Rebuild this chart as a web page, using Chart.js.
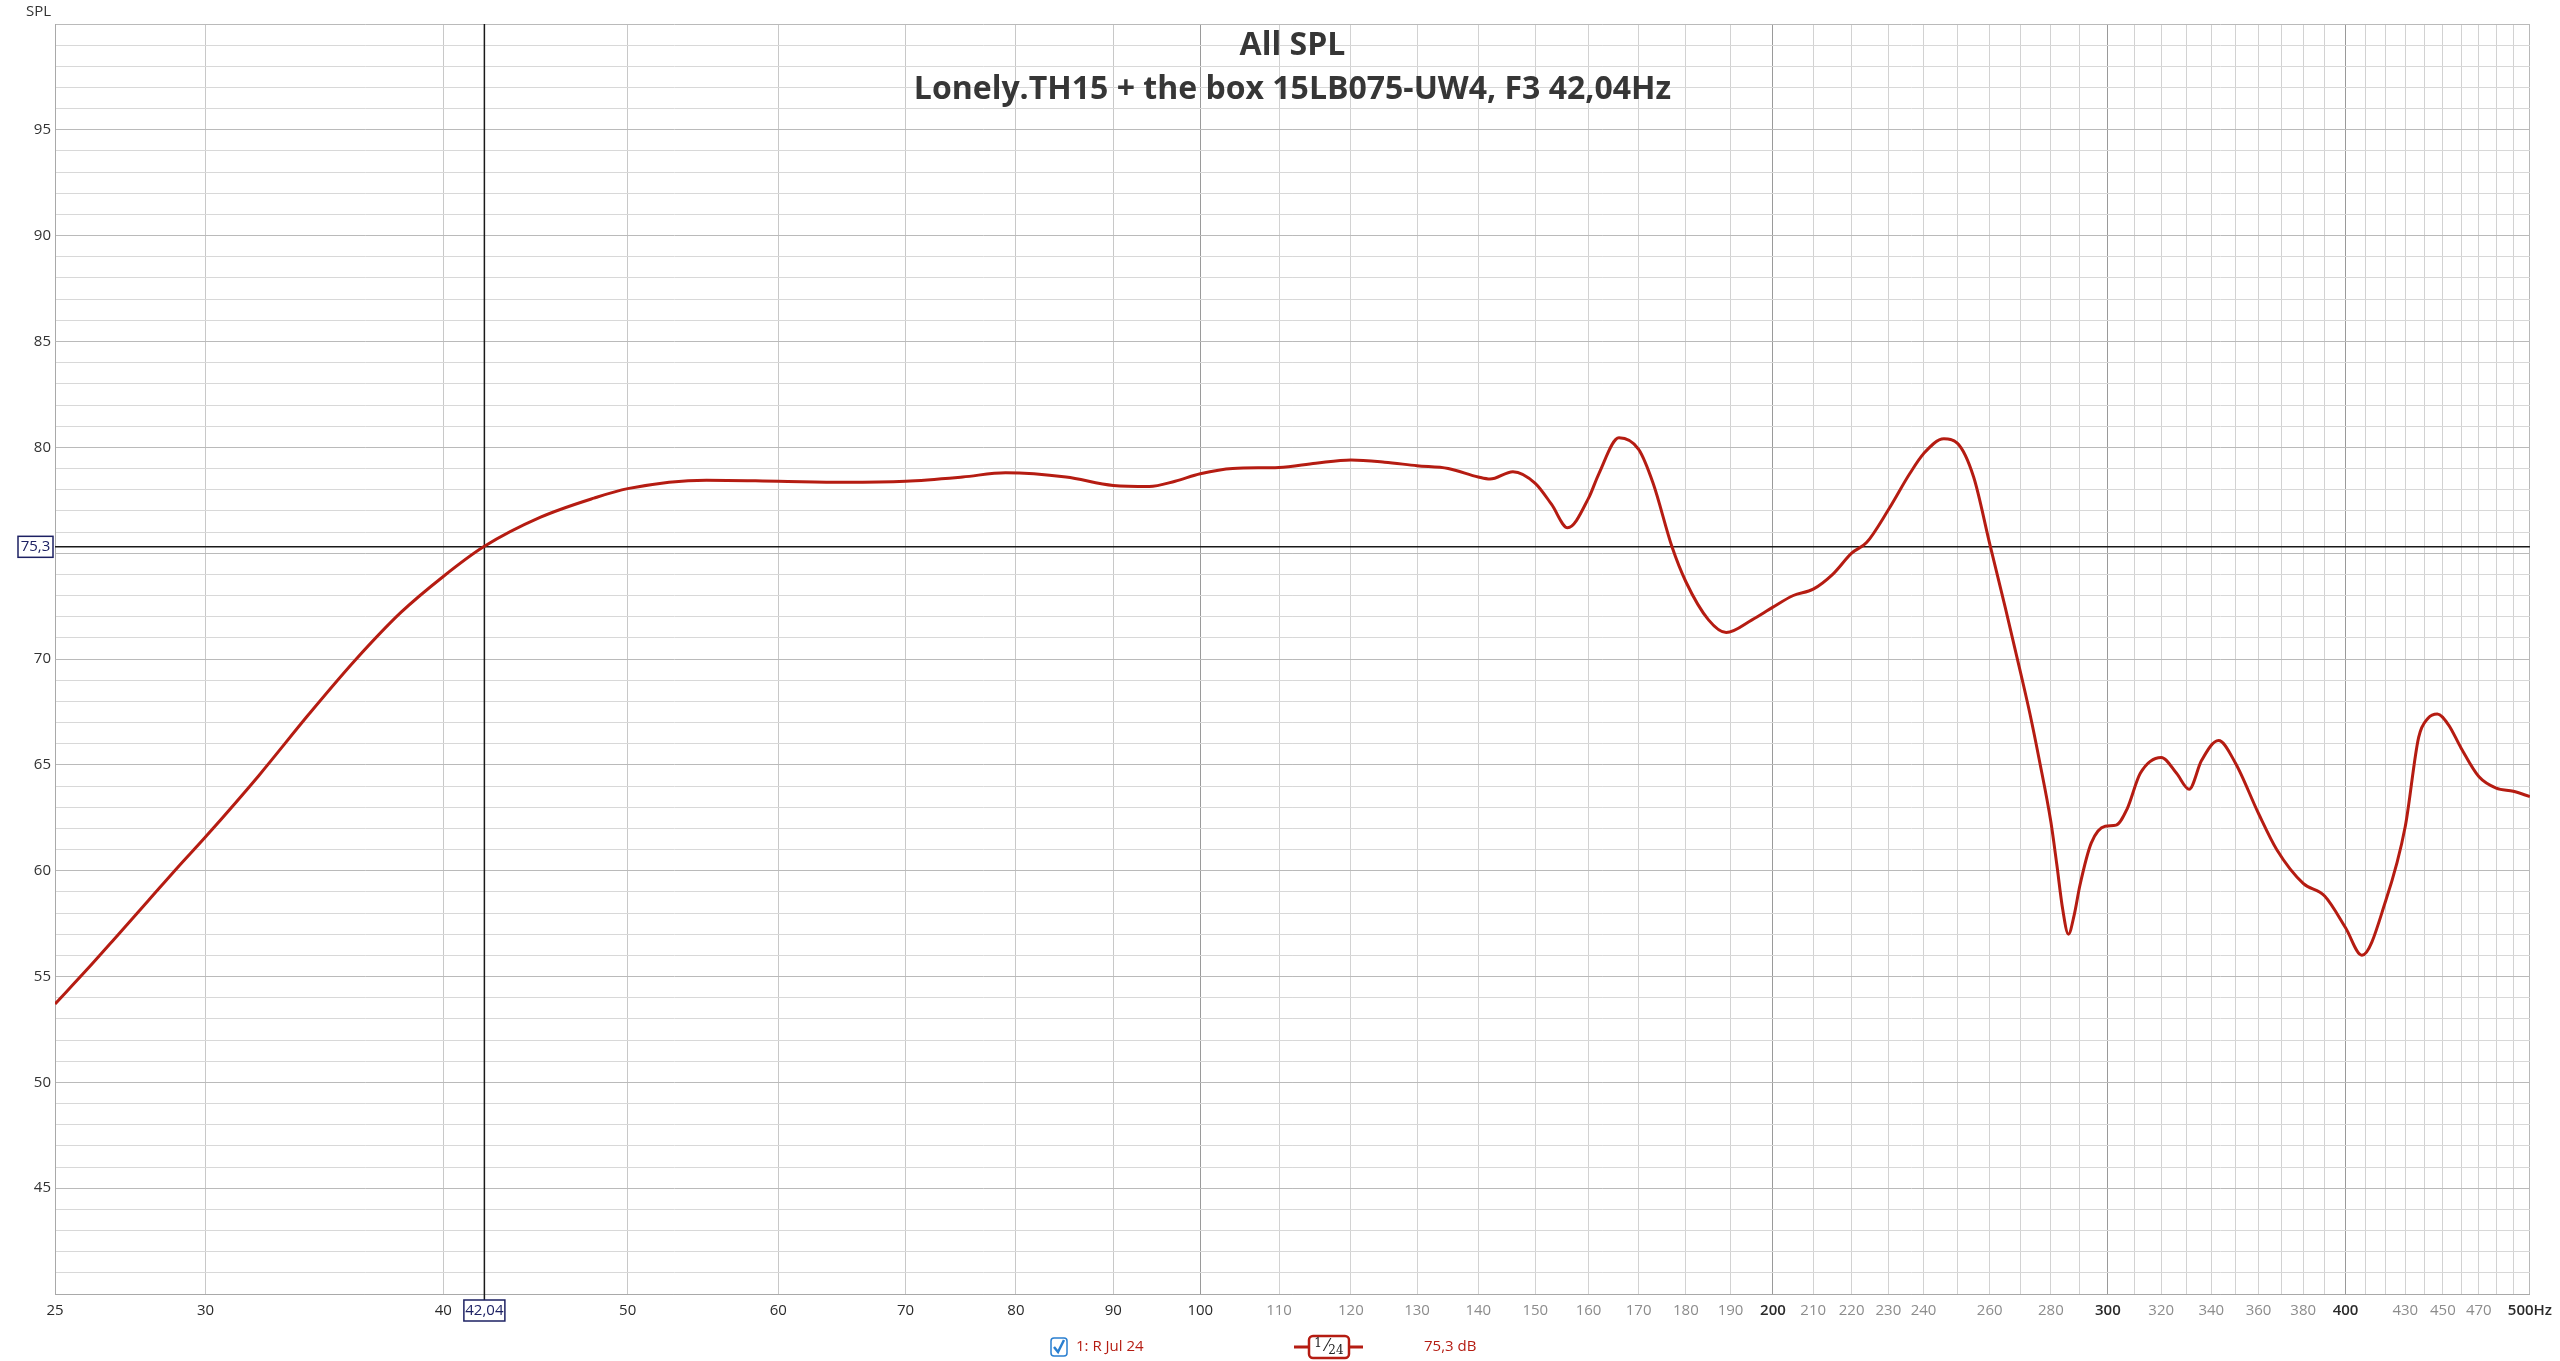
<!DOCTYPE html>
<html>
<head>
<meta charset="utf-8">
<script src="https://cdn.jsdelivr.net/npm/chart.js@4.4.1/dist/chart.umd.min.js"></script>
<style>
  html, body { margin: 0; padding: 0; background: #fff; }
  canvas { display: block; }
</style>
</head>
<body>
<canvas id="chart" width="2560" height="1361"></canvas>
<script>
const freqs = [25, 26, 27, 28, 29, 30, 32, 34, 36, 38, 40, 42, 45, 48, 50, 55, 60, 65, 70, 75, 79, 85, 90, 94,
  97, 100, 104, 110, 115, 120, 125, 130, 135, 140, 142, 146, 150, 153, 156, 160, 162, 166, 170, 173, 177, 180,
  185, 189, 195, 200, 205, 210, 215, 220, 224, 230, 236, 240, 246, 250, 255, 260, 265, 270, 273, 276, 280, 282,
  284, 286, 288, 290, 294, 299, 303, 307, 312, 320, 326, 331, 336, 343, 350, 360, 368, 380, 390, 400, 408, 420,
  430, 437, 442, 447, 453, 460, 470, 480, 490, 500];
const spl = [53.7, 55.35, 57.0, 58.6, 60.15, 61.6, 64.5, 67.4, 70.0, 72.2, 73.9, 75.3, 76.7, 77.6, 78.05, 78.45,
  78.4, 78.35, 78.4, 78.6, 78.8, 78.6, 78.2, 78.15, 78.4, 78.75, 79.0, 79.05, 79.25, 79.4, 79.3, 79.13, 79.0,
  78.6, 78.5, 78.85, 78.3, 77.3, 76.2, 77.6, 78.75, 80.45, 79.9, 78.3, 75.3, 73.65, 71.85, 71.25, 71.85, 72.45,
  73.0, 73.3, 74.0, 75.0, 75.5, 77.05, 78.75, 79.7, 80.4, 80.2, 78.6, 75.45, 72.4, 69.3, 67.4, 65.3, 62.3, 60.3,
  58.2, 57.0, 57.9, 59.3, 61.3, 62.1, 62.15, 62.9, 64.6, 65.35, 64.6, 63.85, 65.2, 66.15, 65.1, 62.7, 61.0,
  59.4, 58.8, 57.3, 56.0, 58.6, 62.1, 66.3, 67.2, 67.4, 66.9, 65.8, 64.45, 63.9, 63.75, 63.5];

const gridFreqs = [25, 30, 40, 50, 60, 70, 80, 90, 100, 110, 120, 130, 140, 150, 160, 170, 180, 190, 200,
  210, 220, 230, 240, 250, 260, 270, 280, 290, 300, 310, 320, 330, 340, 350, 360, 370, 380, 390, 400,
  410, 420, 430, 440, 450, 460, 470, 480, 490, 500];
const labelFreqs = [25, 30, 40, 50, 60, 70, 80, 90, 100, 110, 120, 130, 140, 150, 160, 170, 180, 190, 200,
  210, 220, 230, 240, 260, 280, 300, 320, 340, 360, 380, 400, 430, 450, 470, 500];
const darkFreqs = [25, 30, 40, 50, 60, 70, 80, 90, 100, 200, 300, 400, 500];
const boldFreqs = [200, 300, 400, 500];
const splMin = 40, splMax = 100;

const cursorFreq = 42.04;
const cursorSpl = 75.3;
const titleText = 'All SPL';
const subtitleText = 'Lonely.TH15 + the box 15LB075-UW4, F3 42,04Hz';
const legendName = '1: R Jul 24';
const legendValue = '75,3 dB';

const FONT = "'Open Sans', 'Noto Sans', sans-serif";
const RED = '#b51c12';
const NAVY = '#1d2163';

const overlayPlugin = {
  id: 'overlay',
  beforeDatasetsDraw(chart) {
    const { ctx, chartArea: a, scales } = chart;
    const cx = scales.x.getPixelForValue(cursorFreq);
    const cy = scales.y.getPixelForValue(cursorSpl);
    ctx.save();
    ctx.strokeStyle = '#1a1a1a';
    ctx.lineWidth = 1.5;
    ctx.beginPath();
    ctx.moveTo(a.left, cy); ctx.lineTo(a.right, cy);
    ctx.moveTo(cx, a.top); ctx.lineTo(cx, a.bottom + 6);
    ctx.stroke();

    // title
    const mid = (a.left + a.right) / 2;
    ctx.fillStyle = '#363636';
    ctx.textAlign = 'center';
    ctx.textBaseline = 'middle';
    ctx.font = `bold 32px ${FONT}`;
    ctx.fillText(titleText, mid, 46);
    ctx.fillText(subtitleText, mid, 90);
    ctx.restore();
  },
  afterDraw(chart) {
    const { ctx, scales } = chart;
    const cx = scales.x.getPixelForValue(cursorFreq);
    const cy = scales.y.getPixelForValue(cursorSpl);
    ctx.save();
    ctx.font = `15px ${FONT}`;
    ctx.textBaseline = 'middle';

    // axis caption
    ctx.fillStyle = '#333';
    ctx.textAlign = 'right';
    ctx.fillText('SPL', 51, 12);

    // cursor value boxes
    ctx.lineWidth = 1.5;
    ctx.strokeStyle = NAVY;
    ctx.fillStyle = '#fff';
    ctx.fillRect(18, cy - 10.5, 35, 21);
    ctx.strokeRect(18, cy - 10.5, 35, 21);
    ctx.fillRect(cx - 20.5, 1300, 41, 21);
    ctx.strokeRect(cx - 20.5, 1300, 41, 21);
    ctx.fillStyle = NAVY;
    ctx.textAlign = 'center';
    ctx.fillText('75,3', 35.5, cy);
    ctx.fillText('42,04', cx, 1311);

    // legend row
    const ly = 1347;
    ctx.strokeStyle = '#2a7fd0';
    ctx.lineWidth = 1.5;
    ctx.beginPath();
    ctx.roundRect(1051, ly - 9, 16, 18, 3);
    ctx.stroke();
    ctx.lineWidth = 2.5;
    ctx.beginPath();
    ctx.moveTo(1054, ly); ctx.lineTo(1058, ly + 5); ctx.lineTo(1064, ly - 7);
    ctx.stroke();

    ctx.fillStyle = RED;
    ctx.textAlign = 'left';
    ctx.fillText(legendName, 1076, ly);
    ctx.fillText(legendValue, 1424, ly);

    ctx.strokeStyle = RED;
    ctx.lineWidth = 3;
    ctx.beginPath();
    ctx.moveTo(1294, ly); ctx.lineTo(1363, ly);
    ctx.stroke();
    ctx.fillStyle = '#fff';
    ctx.lineWidth = 2.5;
    ctx.beginPath();
    ctx.roundRect(1309, ly - 11, 40, 22, 4);
    ctx.fill(); ctx.stroke();
    ctx.fillStyle = '#222';
    ctx.font = `12px 'DejaVu Serif', serif`;
    ctx.textAlign = 'center';
    ctx.fillText('1', 1318, ly - 3);
    ctx.fillText('24', 1336, ly + 4);
    ctx.font = `16px 'DejaVu Serif', serif`;
    ctx.fillText('\u2044', 1327, ly);
    ctx.restore();
  }
};

new Chart(document.getElementById('chart'), {
  type: 'line',
  plugins: [overlayPlugin],
  data: {
    datasets: [{
      label: legendName,
      data: freqs.map((f, i) => ({ x: f, y: spl[i] })),
      borderColor: RED,
      borderWidth: 3,
      pointRadius: 0,
      cubicInterpolationMode: 'monotone',
      fill: false,
    }]
  },
  options: {
    responsive: false,
    animation: false,
    events: [],
    layout: { padding: { top: 24, right: 27, left: 0, bottom: 0 } },
    plugins: { legend: { display: false }, tooltip: { enabled: false }, title: { display: false } },
    scales: {
      x: {
        type: 'logarithmic',
        min: 25,
        max: 500,
        afterBuildTicks(scale) { scale.ticks = gridFreqs.map(v => ({ value: v })); },
        afterFit(scale) { scale.height = 67; },
        border: { display: true, color: '#a9a9a9', width: 1 },
        grid: {
          drawTicks: false,
          lineWidth: 1,
          color(ctx) {
            const v = ctx.tick && ctx.tick.value;
            if (v === 100 || v === 200 || v === 300 || v === 400) return '#9a9a9a';
            if (v === 500) return '#b8b8b8';
            if (v <= 90) return '#c8c8c8';
            return '#d2d2d2';
          },
        },
        ticks: {
          autoSkip: false,
          maxRotation: 0,
          padding: 8,
          font(ctx) {
            const v = ctx.tick && ctx.tick.value;
            return { family: FONT, size: 15, weight: boldFreqs.includes(v) ? '600' : '400' };
          },
          color(ctx) {
            const v = ctx.tick && ctx.tick.value;
            return darkFreqs.includes(v) ? '#2a2a2a' : '#8c8c8c';
          },
          callback(value) {
            if (!labelFreqs.includes(value)) return '';
            return value === 500 ? '500Hz' : String(value);
          },
        },
      },
      y: {
        type: 'linear',
        min: splMin,
        max: splMax,
        afterBuildTicks(scale) {
          const t = [];
          for (let v = splMin; v <= splMax; v++) t.push({ value: v });
          scale.ticks = t;
        },
        afterFit(scale) { scale.width = 55; },
        border: { display: true, color: '#a9a9a9', width: 1 },
        grid: {
          drawTicks: false,
          lineWidth: 1,
          color(ctx) {
            const v = ctx.tick && ctx.tick.value;
            return v % 5 === 0 ? '#bababa' : '#d8d8d8';
          },
        },
        ticks: {
          padding: 4,
          font: { family: FONT, size: 15 },
          color: '#333',
          callback(value) {
            return value % 5 === 0 && value > splMin && value < splMax ? String(value) : '';
          },
        },
      },
    },
  },
});
</script>
</body>
</html>
